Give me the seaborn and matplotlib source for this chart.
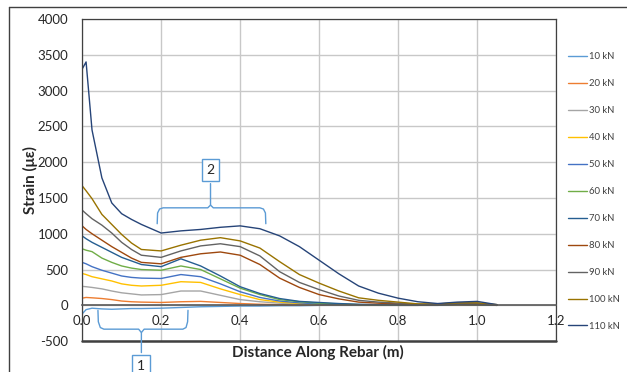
import pandas as pd
import matplotlib.pyplot as plt
import seaborn as sns
from matplotlib.lines import Line2D

# distance along rebar (m), shared by all load steps
distance = [0, 0.01, 0.025, 0.05, 0.075, 0.1, 0.125, 0.15, 0.2, 0.25, 0.3, 0.35, 0.4,
            0.45, 0.5, 0.55, 0.6, 0.65, 0.7, 0.75, 0.8, 0.85, 0.9, 0.95, 1.0, 1.05]

# strain readings (microstrain) per load step
s10 = [-120, -60, -40, -50, -55, -50, -45, -45, -40, -30, -20, -15, -10,
       -10, -5, -5, 0, 0, 0, 0, 0, 0, 0, 10, 5, 0]
s20 = [100, 110, 105, 95, 80, 60, 50, 45, 40, 50, 55, 40, 25,
       15, 10, 5, 5, 5, 0, 0, 0, 0, 0, 10, 5, 0]
s30 = [265, 260, 250, 230, 200, 175, 160, 145, 150, 200, 200, 140, 80,
       50, 30, 20, 10, 5, 5, 0, 0, 0, 5, 10, 10, 0]
s40 = [445, 430, 400, 370, 340, 300, 280, 270, 280, 330, 320, 230, 150,
       80, 45, 25, 15, 10, 5, 5, 0, 0, 5, 10, 10, 0]
s50 = [600, 580, 540, 490, 450, 410, 390, 380, 375, 430, 400, 300, 190,
       110, 60, 35, 20, 10, 5, 5, 0, 0, 5, 15, 10, 0]
s60 = [790, 770, 750, 660, 600, 550, 520, 500, 490, 550, 500, 370, 240,
       150, 80, 50, 30, 20, 10, 5, 5, 5, 5, 15, 10, 0]
s70 = [970, 930, 880, 810, 740, 670, 620, 570, 540, 650, 550, 410, 260,
       165, 95, 55, 40, 25, 15, 10, 10, 5, 5, 15, 15, 0]
s80 = [1110, 1060, 1000, 910, 820, 740, 660, 600, 580, 670, 720, 745, 700,
       570, 380, 250, 150, 90, 45, 30, 20, 10, 10, 25, 20, 5]
s90 = [1330, 1280, 1210, 1120, 1010, 880, 780, 700, 670, 760, 830, 860, 820,
       690, 470, 320, 220, 130, 70, 45, 30, 15, 15, 30, 30, 5]
s100 = [1670, 1600, 1490, 1270, 1130, 990, 870, 780, 760, 840, 910, 945, 900,
        800, 610, 430, 310, 200, 105, 70, 45, 20, 20, 35, 35, 10]
s110 = [3300, 3400, 2450, 1780, 1430, 1280, 1200, 1130, 1010, 1040, 1060, 1090, 1110,
        1070, 970, 820, 630, 440, 270, 170, 100, 50, 25, 45, 55, 10]

loads = ['10 kN', '20 kN', '30 kN', '40 kN', '50 kN', '60 kN',
         '70 kN', '80 kN', '90 kN', '100 kN', '110 kN']
series = [s10, s20, s30, s40, s50, s60, s70, s80, s90, s100, s110]
colors = ['#5B9BD5', '#ED7D31', '#A5A5A5', '#FFC000', '#4472C4', '#70AD47',
          '#255E91', '#9E480E', '#636363', '#997300', '#264478']

rows = []
for load, vals in zip(loads, series):
    for d, v in zip(distance, vals):
        rows.append({'Distance': d, 'Strain': v, 'Load': load})
df = pd.DataFrame(rows)

sns.set_theme(style='white')
plt.rcParams['font.family'] = ['Lato', 'DejaVu Sans']
plt.rcParams['axes.unicode_minus'] = False

fig = plt.figure(figsize=(6.27, 3.72), dpi=100)
ax = fig.add_axes([0.131, 0.083, 0.756, 0.866])

sns.lineplot(data=df, x='Distance', y='Strain', hue='Load', hue_order=loads,
             palette=colors, estimator=None, linewidth=1.0, ax=ax)

ax.set_xlim(0, 1.2)
ax.set_ylim(-500, 4000)
ax.set_xticks([0, 0.2, 0.4, 0.6, 0.8, 1.0, 1.2])
ax.set_xticklabels(['0.0', '0.2', '0.4', '0.6', '0.8', '1.0', '1.2'])
ax.set_yticks(range(-500, 4001, 500))
ax.grid(True, color='#C8C8C8', linewidth=1.0)
ax.set_axisbelow(True)
ax.tick_params(axis='x', length=0, pad=7, labelsize=9.5)
ax.tick_params(axis='y', length=0, pad=10, labelsize=9.5)
for lab in ax.get_xticklabels() + ax.get_yticklabels():
    lab.set_color('#262626')

# x axis crosses at zero, frame box kept around the plot area
ax.spines['bottom'].set_position(('data', 0))
ax.spines['bottom'].set_color('#595959')
ax.spines['bottom'].set_linewidth(1.2)
for side in ['left', 'right', 'top']:
    ax.spines[side].set_color('#404040')
    ax.spines[side].set_linewidth(0.9)
ax.axhline(-500, color='#404040', linewidth=1.8, clip_on=False)

ax.set_xlabel('Distance Along Rebar (m)', fontsize=11, fontweight='bold', color='#262626')
ax.set_ylabel('Strain (με)', fontsize=11, fontweight='bold', color='#262626')
ax.xaxis.set_label_coords(0.498, -0.012)
ax.yaxis.set_label_coords(-0.093, 0.5)

# braces and numbered boxes
bc = '#5B9BD5'
ax.plot([0.190, 0.191, 0.196, 0.205, 0.318, 0.325, 0.325], [1140, 1290, 1345, 1362, 1362, 1400, 1700],
        color=bc, linewidth=1.0, clip_on=False)
ax.plot([0.325, 0.332, 0.450, 0.459, 0.464, 0.465], [1400, 1362, 1362, 1345, 1290, 1140],
        color=bc, linewidth=1.0, clip_on=False)
ax.text(0.325, 1890, '2', ha='center', va='center', fontsize=10, color='#262626',
        bbox=dict(boxstyle='square,pad=0.35', fc='white', ec=bc, lw=1.0))
ax.plot([0.040, 0.041, 0.046, 0.055, 0.143, 0.150, 0.150], [-70, -230, -310, -333, -333, -380, -660],
        color=bc, linewidth=1.0, clip_on=False)
ax.plot([0.150, 0.157, 0.255, 0.263, 0.267, 0.268], [-380, -333, -333, -310, -230, -70],
        color=bc, linewidth=1.0, clip_on=False)
ax.text(0.150, -850, '1', ha='center', va='center', fontsize=10, color='#262626',
        bbox=dict(boxstyle='square,pad=0.35', fc='white', ec=bc, lw=1.0), clip_on=False)

handles, labels = ax.get_legend_handles_labels()
ax.get_legend().remove()
leg = fig.legend(handles, labels, loc='center left', bbox_to_anchor=(0.906, 0.485),
                 frameon=False, fontsize=6.8, labelspacing=1.9, handlelength=2.0,
                 handletextpad=0.2, borderpad=0, borderaxespad=0)
for t in leg.get_texts():
    t.set_color('#404040')

# outer chart border (left and top edges visible)
bx = 8.5 / 627
by = 1 - 6.5 / 372
fig.add_artist(Line2D([bx, bx], [0, by], transform=fig.transFigure,
                      color='#404040', linewidth=1.0))
fig.add_artist(Line2D([bx, 1], [by, by], transform=fig.transFigure,
                      color='#404040', linewidth=1.0))

fig.savefig('out.png', dpi=100)
